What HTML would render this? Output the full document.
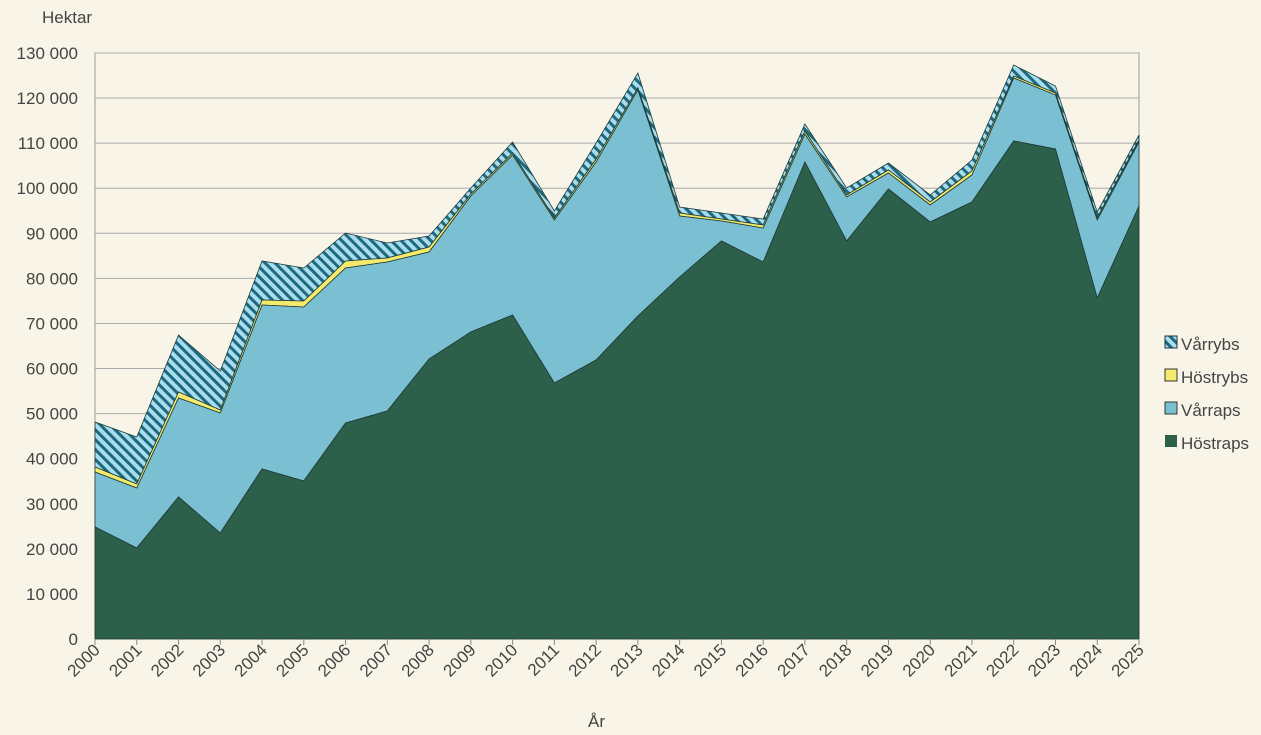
<!DOCTYPE html><html><head><meta charset="utf-8"><style>
body{margin:0;background:#f8f5e8;}
svg{display:block;font-family:"Liberation Sans",sans-serif;}
</style></head><body>
<svg id="s" width="1261" height="735" viewBox="0 0 1261 735">
<defs><pattern id="h" patternUnits="userSpaceOnUse" width="7" height="7" patternTransform="rotate(-45)">
<rect width="7" height="7" fill="#a9dcee"/><rect width="3" height="7" fill="#1d6a7e"/></pattern></defs>
<rect x="95" y="53" width="1044" height="586" fill="#f8f5e8" stroke="#999" stroke-width="1"/>
<g id="grid"></g><g id="areas"></g><g id="labels"></g>
<text x="42" y="23" font-size="17" fill="#444">Hektar</text>
<text x="588" y="727" font-size="17" fill="#444">År</text>
<g font-size="17" fill="#444">
<rect x="1165" y="336" width="12" height="12" fill="url(#h)" stroke="#234" stroke-width="1"/><text x="1181" y="350">Vårrybs</text>
<rect x="1165" y="369" width="12" height="12" fill="#f4ea6c" stroke="#333" stroke-width="1"/><text x="1181" y="383">Höstrybs</text>
<rect x="1165" y="402" width="12" height="12" fill="#7bbfd3" stroke="#333" stroke-width="1"/><text x="1181" y="416">Vårraps</text>
<rect x="1165" y="435" width="12" height="12" fill="#2d604b"/><text x="1181" y="449">Höstraps</text>
</g>
</svg>
<script>
var d=[527,548,497,533,469,481,423,411,359,332,315,383,360,316,277,241,262,162,241,189,222,202,141,149,298,206];
var b=[472,488,398,413,305,307,268,262,252,196,155,220,162,90,216,221,228,134,197,173,205,175,78,95,220,142];
var y=[467,484,392,410,300,301,261,258,247,194,153,218,159,88,213,219,225,131,195,170,202,171,76,93,218,140];
var t=[422,437,335,371,261,268,233,243,236,188,142,211,143,73,207,213,219,124,188,163,195,160,65,86,212,135];
function X(i){return 95+i*41.76}
var ns="http://www.w3.org/2000/svg";
function el(g,tag,a,txt){var e=document.createElementNS(ns,tag);for(var k in a)e.setAttribute(k,a[k]);if(txt!=null)e.textContent=txt;document.getElementById(g).appendChild(e);return e}
for(var k=0;k<=13;k++){var yy=639-k*45.08;el('grid','line',{x1:95,x2:1139,y1:yy,y2:yy,stroke:'#aaa','stroke-width':1});
el('labels','text',{x:78,y:yy+6,'text-anchor':'end','font-size':17,fill:'#444'},k==0?'0':(k*10)+' 000')}
function band(top,bot,fill){var p=[];for(var i=0;i<26;i++)p.push(X(i)+','+top[i]);for(var i=25;i>=0;i--)p.push(X(i)+','+(bot?bot[i]:639));
el('areas','polygon',{points:p.join(' '),fill:fill,stroke:'#1e3a35','stroke-width':0.8})}
band(t,y,'url(#h)');band(y,b,'#f4ea6c');band(b,d,'#7bbfd3');band(d,null,'#2d604b');
for(var i=0;i<26;i++){var x=X(i);el('labels','line',{x1:x,x2:x,y1:639,y2:645,stroke:'#888'});
el('labels','text',{x:0,y:0,'font-size':17,fill:'#444','text-anchor':'end',transform:'translate('+(x+6)+',651) rotate(-45)'},String(2000+i))}
</script>
</body></html>
